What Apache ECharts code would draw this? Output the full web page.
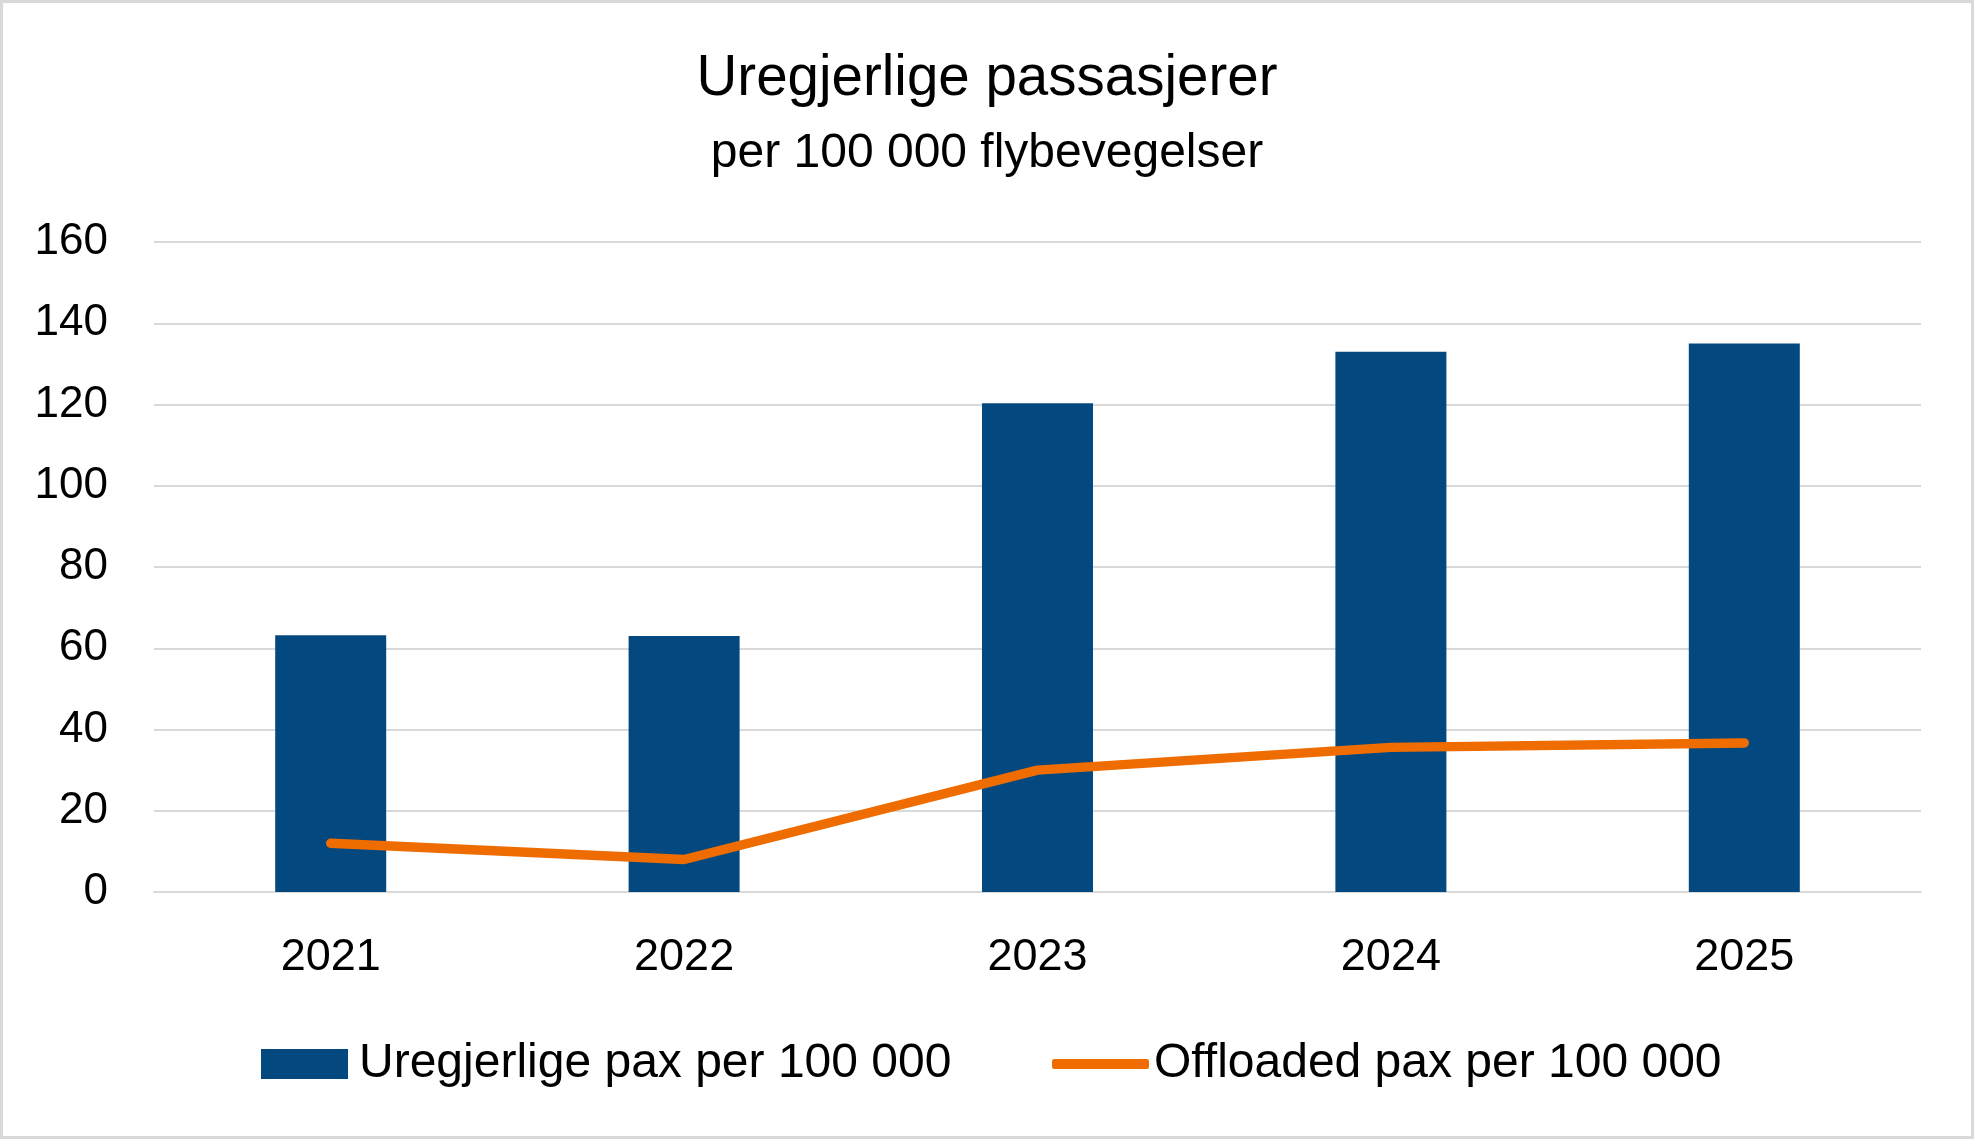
<!DOCTYPE html>
<html>
<head>
<meta charset="utf-8">
<script src="https://cdn.jsdelivr.net/npm/echarts@6/dist/echarts.min.js"></script>
<style>
  html, body { margin: 0; padding: 0; background: #fff; }
  #chart { width: 1974px; height: 1139px; }
</style>
</head>
<body>
<div id="chart"></div>
<script>
  // data
  var years = ['2021', '2022', '2023', '2024', '2025'];
  var uregjerlige = [63.2, 63, 120.3, 133, 135];
  var offloaded = [12, 8, 30, 35.6, 36.7];
  var yTicks = [0, 20, 40, 60, 80, 100, 120, 140, 160];

  var barName = 'Uregjerlige pax per 100 000';
  var lineName = 'Offloaded pax per 100 000';
  var font = 'Liberation Sans';

  var chart = echarts.init(document.getElementById('chart'));
  var option = {
    animation: false,
    textStyle: { fontFamily: font },
    title: [{
      text: 'Uregjerlige passasjerer',
      left: 'center',
      top: 46,
      textStyle: { fontFamily: font, fontSize: 56.5, lineHeight: 56, fontWeight: 'normal', color: '#000' }
    }, {
      text: 'per 100 000 flybevegelser',
      left: 'center',
      top: 125,
      textStyle: { fontFamily: font, fontSize: 48, lineHeight: 48, fontWeight: 'normal', color: '#000' }
    }],
    legend: [{
      data: [{ name: barName, icon: 'rect' }],
      left: 256,
      top: 1035,
      itemWidth: 87,
      itemHeight: 30,
      textStyle: { fontFamily: font, fontSize: 48, lineHeight: 48, color: '#000', padding: [0, 0, 0, 6] }
    }, {
      data: [{ name: lineName, icon: 'roundRect' }],
      left: 1047,
      top: 1035,
      itemWidth: 97,
      itemHeight: 10,
      itemStyle: { color: '#ef6c00' },
      textStyle: { fontFamily: font, fontSize: 48, lineHeight: 48, color: '#000', padding: [0, 0, 0, 0] }
    }],
    grid: {
      left: 154,
      right: 53,
      top: 242,
      bottom: 247,
      containLabel: false
    },
    xAxis: {
      type: 'category',
      data: years,
      axisLine: { show: true, lineStyle: { color: '#d9d9d9', width: 2 } },
      axisTick: { show: false },
      axisLabel: { fontFamily: font, fontSize: 45, color: '#000', margin: 43 }
    },
    yAxis: {
      type: 'value',
      min: yTicks[0],
      max: yTicks[yTicks.length - 1],
      interval: yTicks[1] - yTicks[0],
      axisLine: { show: false },
      axisTick: { show: false },
      axisLabel: { fontFamily: font, fontSize: 44, color: '#000', margin: 46 },
      splitLine: { lineStyle: { color: '#d9d9d9', width: 2 } }
    },
    series: [{
      name: barName,
      type: 'bar',
      data: uregjerlige,
      barWidth: 111,
      itemStyle: { color: '#03497f' }
    }, {
      name: lineName,
      type: 'line',
      data: offloaded,
      symbol: 'none',
      lineStyle: { color: '#ef6c00', width: 9.5, cap: 'round', join: 'round' },
      itemStyle: { color: '#ef6c00' }
    }],
    graphic: [{
      type: 'rect',
      shape: { x: 1.5, y: 1.5, width: 1971, height: 1136 },
      style: { fill: 'none', stroke: '#d9d9d9', lineWidth: 3 },
      silent: true
    }]
  };
  chart.setOption(option);
</script>
</body>
</html>
